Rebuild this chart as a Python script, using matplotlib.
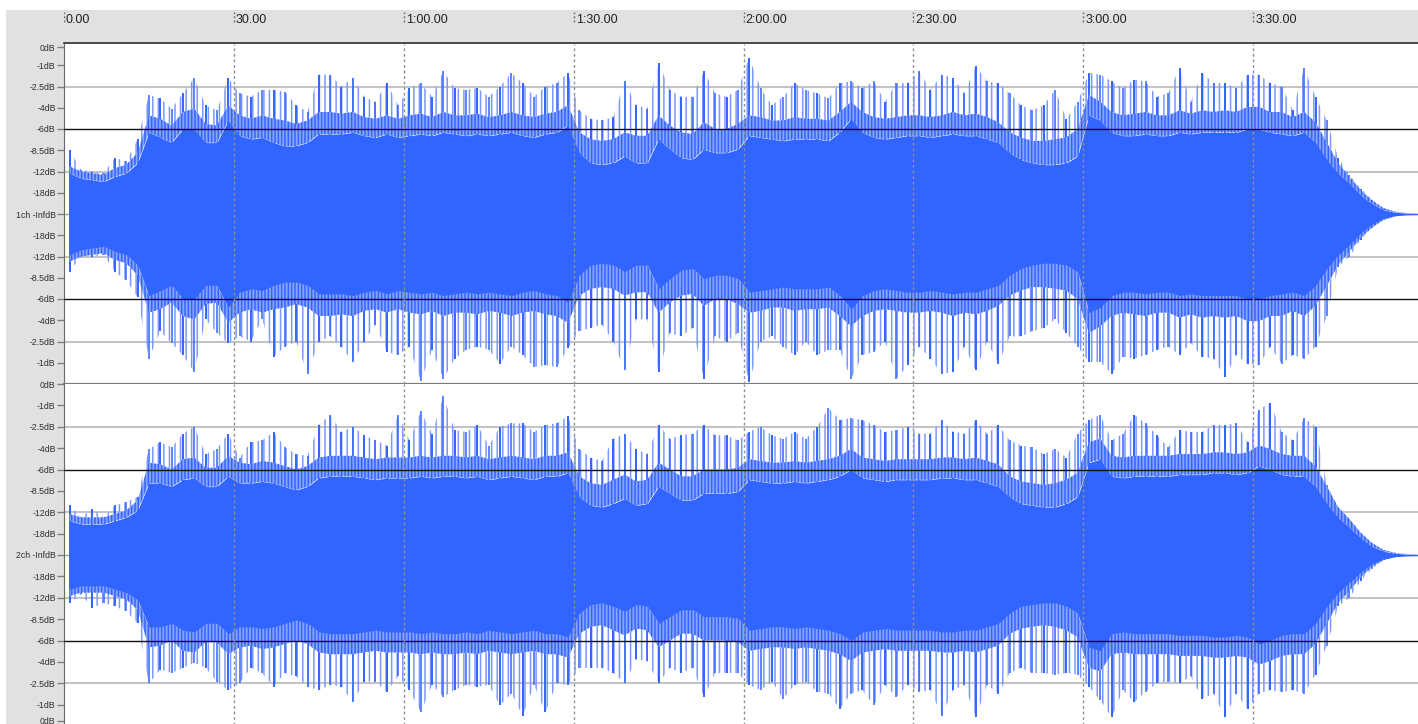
import numpy as np
import matplotlib.pyplot as plt
from matplotlib import transforms

plt.rcParams['font.family'] = ['Liberation Sans', 'DejaVu Sans']
plt.rcParams['hatch.linewidth'] = 1.1

# ruler (seconds)
tick_sec = [0, 30, 60, 90, 120, 150, 180, 210]
tick_txt = ['0.00', '30.00', '1:00.00', '1:30.00', '2:00.00', '2:30.00', '3:00.00', '3:30.00']

# level scale, linear amplitude in eighths
lvl_pos = [1.0, 0.875, 0.75, 0.625, 0.5, 0.375, 0.25, 0.125, 0.0]
lvl_txt = ['0dB', '-1dB', '-2.5dB', '-4dB', '-6dB', '-8.5dB', '-12dB', '-18dB', '-InfdB']

# waveform, read per 2 s block (centres 1, 3, ... 239 s)
# body = solid part, fringe = dense hair, top/bot = highest spike
body_ch1 = [0.24, 0.21, 0.20, 0.19, 0.22, 0.24, 0.30, 0.48, 0.45, 0.42, 0.50, 0.50, 0.42, 0.42, 0.55, 0.46, 0.44, 0.45, 0.42, 0.40,
            0.40, 0.42, 0.47, 0.47, 0.47, 0.48, 0.46, 0.45, 0.47, 0.45, 0.46, 0.47, 0.46, 0.48, 0.47, 0.46, 0.47, 0.46, 0.47, 0.48,
            0.46, 0.45, 0.47, 0.48, 0.52, 0.36, 0.30, 0.29, 0.30, 0.34, 0.30, 0.30, 0.44, 0.38, 0.33, 0.32, 0.38, 0.36, 0.36, 0.38,
            0.46, 0.45, 0.44, 0.43, 0.44, 0.44, 0.44, 0.43, 0.48, 0.56, 0.48, 0.45, 0.44, 0.45, 0.46, 0.46, 0.45, 0.46, 0.47, 0.46,
            0.46, 0.44, 0.42, 0.36, 0.32, 0.30, 0.29, 0.29, 0.30, 0.34, 0.58, 0.55, 0.48, 0.46, 0.46, 0.47, 0.46, 0.46, 0.48, 0.47,
            0.48, 0.48, 0.48, 0.48, 0.50, 0.50, 0.48, 0.47, 0.46, 0.48, 0.42, 0.32, 0.24, 0.18, 0.11, 0.06, 0.025, 0.01, 0.005, 0.004]
fringe_ch1 = [0.28, 0.25, 0.24, 0.23, 0.27, 0.29, 0.36, 0.58, 0.56, 0.52, 0.60, 0.62, 0.53, 0.52, 0.64, 0.58, 0.56, 0.58, 0.56, 0.55,
              0.53, 0.55, 0.60, 0.60, 0.59, 0.60, 0.57, 0.56, 0.58, 0.56, 0.58, 0.59, 0.57, 0.60, 0.58, 0.58, 0.59, 0.57, 0.58, 0.60,
              0.58, 0.57, 0.59, 0.60, 0.64, 0.48, 0.44, 0.43, 0.44, 0.48, 0.46, 0.46, 0.58, 0.52, 0.48, 0.47, 0.54, 0.50, 0.50, 0.53,
              0.58, 0.57, 0.55, 0.55, 0.57, 0.56, 0.56, 0.55, 0.60, 0.66, 0.60, 0.57, 0.56, 0.57, 0.58, 0.58, 0.57, 0.58, 0.60, 0.58,
              0.59, 0.57, 0.54, 0.48, 0.45, 0.43, 0.43, 0.44, 0.45, 0.50, 0.70, 0.66, 0.60, 0.58, 0.59, 0.60, 0.58, 0.58, 0.61, 0.59,
              0.61, 0.60, 0.61, 0.60, 0.63, 0.63, 0.60, 0.60, 0.57, 0.60, 0.54, 0.42, 0.30, 0.22, 0.14, 0.08, 0.035, 0.014, 0.006, 0.004]
top_ch1 = [0.375, 0.26, 0.25, 0.24, 0.33, 0.31, 0.44, 0.70, 0.68, 0.62, 0.71, 0.80, 0.64, 0.61, 0.80, 0.71, 0.69, 0.73, 0.73, 0.72,
           0.64, 0.60, 0.82, 0.82, 0.75, 0.80, 0.69, 0.66, 0.77, 0.64, 0.74, 0.77, 0.69, 0.84, 0.74, 0.73, 0.74, 0.69, 0.75, 0.83,
           0.77, 0.69, 0.75, 0.77, 0.83, 0.61, 0.56, 0.55, 0.57, 0.78, 0.64, 0.62, 0.89, 0.73, 0.69, 0.69, 0.84, 0.71, 0.69, 0.73,
           0.92, 0.74, 0.64, 0.69, 0.77, 0.73, 0.71, 0.68, 0.77, 0.78, 0.74, 0.78, 0.66, 0.77, 0.77, 0.84, 0.73, 0.82, 0.80, 0.71,
           0.87, 0.78, 0.77, 0.71, 0.64, 0.61, 0.64, 0.73, 0.56, 0.66, 0.83, 0.82, 0.78, 0.74, 0.79, 0.78, 0.69, 0.71, 0.86, 0.66,
           0.83, 0.77, 0.77, 0.74, 0.82, 0.82, 0.77, 0.75, 0.61, 0.86, 0.69, 0.55, 0.33, 0.23, 0.15, 0.085, 0.033, 0.008, 0.0, 0.0]
bot_ch1 = [0.34, 0.25, 0.25, 0.24, 0.34, 0.39, 0.49, 0.85, 0.69, 0.76, 0.83, 0.93, 0.62, 0.70, 0.76, 0.72, 0.75, 0.62, 0.84, 0.78,
           0.75, 0.94, 0.75, 0.72, 0.78, 0.87, 0.75, 0.65, 0.81, 0.83, 0.78, 0.98, 0.80, 0.97, 0.85, 0.80, 0.78, 0.80, 0.88, 0.78,
           0.83, 0.90, 0.89, 0.90, 0.79, 0.69, 0.67, 0.65, 0.75, 0.92, 0.62, 0.62, 0.93, 0.70, 0.72, 0.67, 0.97, 0.72, 0.75, 0.70,
           0.99, 0.75, 0.72, 0.78, 0.83, 0.75, 0.83, 0.80, 0.80, 0.97, 0.83, 0.81, 0.75, 0.97, 0.89, 0.78, 0.85, 0.94, 0.93, 0.78,
           0.92, 0.75, 0.88, 0.72, 0.72, 0.69, 0.67, 0.62, 0.70, 0.78, 0.87, 0.87, 0.94, 0.84, 0.85, 0.83, 0.80, 0.78, 0.83, 0.76,
           0.84, 0.85, 0.96, 0.83, 0.88, 0.89, 0.78, 0.88, 0.83, 0.85, 0.78, 0.60, 0.31, 0.25, 0.15, 0.08, 0.03, 0.01, 0.0, 0.0]

body_ch2 = [0.20, 0.18, 0.18, 0.18, 0.20, 0.22, 0.26, 0.42, 0.42, 0.40, 0.44, 0.45, 0.40, 0.40, 0.46, 0.42, 0.42, 0.43, 0.42, 0.40,
            0.38, 0.40, 0.45, 0.46, 0.46, 0.46, 0.45, 0.44, 0.45, 0.45, 0.45, 0.46, 0.45, 0.46, 0.46, 0.45, 0.46, 0.44, 0.45, 0.46,
            0.45, 0.44, 0.46, 0.46, 0.48, 0.34, 0.29, 0.28, 0.30, 0.33, 0.29, 0.30, 0.40, 0.36, 0.32, 0.32, 0.36, 0.36, 0.36, 0.37,
            0.44, 0.43, 0.42, 0.42, 0.43, 0.42, 0.43, 0.44, 0.46, 0.50, 0.45, 0.44, 0.43, 0.44, 0.44, 0.44, 0.44, 0.45, 0.45, 0.44,
            0.44, 0.42, 0.40, 0.34, 0.30, 0.29, 0.28, 0.28, 0.30, 0.34, 0.54, 0.56, 0.46, 0.45, 0.46, 0.46, 0.46, 0.46, 0.47, 0.47,
            0.47, 0.48, 0.48, 0.47, 0.48, 0.52, 0.50, 0.47, 0.46, 0.46, 0.40, 0.30, 0.22, 0.16, 0.10, 0.05, 0.022, 0.01, 0.005, 0.004]
fringe_ch2 = [0.24, 0.22, 0.22, 0.22, 0.24, 0.26, 0.32, 0.54, 0.53, 0.50, 0.56, 0.57, 0.51, 0.51, 0.58, 0.54, 0.53, 0.55, 0.54, 0.52,
              0.50, 0.52, 0.57, 0.58, 0.58, 0.58, 0.57, 0.56, 0.57, 0.57, 0.57, 0.58, 0.57, 0.58, 0.58, 0.57, 0.58, 0.56, 0.57, 0.58,
              0.57, 0.56, 0.58, 0.58, 0.60, 0.46, 0.42, 0.41, 0.44, 0.47, 0.43, 0.44, 0.54, 0.50, 0.46, 0.46, 0.50, 0.50, 0.50, 0.51,
              0.56, 0.55, 0.54, 0.54, 0.55, 0.54, 0.55, 0.56, 0.58, 0.62, 0.57, 0.56, 0.55, 0.56, 0.56, 0.56, 0.56, 0.57, 0.57, 0.56,
              0.57, 0.55, 0.53, 0.46, 0.43, 0.42, 0.41, 0.42, 0.44, 0.48, 0.66, 0.68, 0.58, 0.57, 0.58, 0.58, 0.58, 0.58, 0.59, 0.59,
              0.59, 0.60, 0.60, 0.59, 0.60, 0.64, 0.62, 0.59, 0.58, 0.58, 0.52, 0.40, 0.28, 0.21, 0.13, 0.07, 0.03, 0.013, 0.006, 0.004]
top_ch2 = [0.29, 0.22, 0.27, 0.21, 0.29, 0.31, 0.34, 0.62, 0.66, 0.63, 0.71, 0.75, 0.59, 0.62, 0.71, 0.57, 0.66, 0.67, 0.72, 0.63,
           0.59, 0.58, 0.76, 0.82, 0.72, 0.75, 0.70, 0.67, 0.64, 0.82, 0.67, 0.84, 0.71, 0.93, 0.73, 0.72, 0.76, 0.64, 0.75, 0.77,
           0.77, 0.72, 0.76, 0.77, 0.81, 0.62, 0.57, 0.55, 0.68, 0.71, 0.62, 0.59, 0.76, 0.68, 0.70, 0.71, 0.76, 0.70, 0.70, 0.67,
           0.72, 0.75, 0.70, 0.68, 0.72, 0.68, 0.75, 0.86, 0.79, 0.80, 0.79, 0.76, 0.72, 0.73, 0.75, 0.71, 0.71, 0.79, 0.72, 0.71,
           0.79, 0.71, 0.76, 0.67, 0.64, 0.63, 0.59, 0.62, 0.57, 0.71, 0.79, 0.82, 0.67, 0.71, 0.82, 0.77, 0.70, 0.63, 0.73, 0.72,
           0.72, 0.76, 0.76, 0.77, 0.66, 0.85, 0.89, 0.72, 0.67, 0.80, 0.75, 0.41, 0.26, 0.21, 0.13, 0.06, 0.03, 0.01, 0.0, 0.0]
bot_ch2 = [0.28, 0.23, 0.31, 0.28, 0.30, 0.33, 0.40, 0.75, 0.67, 0.69, 0.66, 0.63, 0.66, 0.74, 0.79, 0.75, 0.66, 0.69, 0.77, 0.69,
           0.71, 0.77, 0.79, 0.76, 0.77, 0.86, 0.74, 0.74, 0.80, 0.71, 0.79, 0.92, 0.76, 0.83, 0.79, 0.76, 0.77, 0.76, 0.88, 0.81,
           0.94, 0.76, 0.92, 0.75, 0.76, 0.66, 0.66, 0.66, 0.69, 0.75, 0.61, 0.62, 0.75, 0.66, 0.69, 0.66, 0.83, 0.69, 0.69, 0.69,
           0.76, 0.79, 0.74, 0.84, 0.76, 0.74, 0.80, 0.81, 0.90, 0.81, 0.79, 0.88, 0.76, 0.83, 0.76, 0.80, 0.79, 0.94, 0.79, 0.76,
           0.95, 0.76, 0.81, 0.69, 0.66, 0.69, 0.69, 0.70, 0.69, 0.70, 0.77, 0.85, 0.95, 0.79, 0.86, 0.80, 0.75, 0.74, 0.75, 0.71,
           0.84, 0.81, 0.95, 0.81, 0.90, 0.81, 0.79, 0.80, 0.79, 0.81, 0.70, 0.53, 0.30, 0.25, 0.15, 0.08, 0.03, 0.01, 0.0, 0.0]

t = np.arange(1, 240, 2)
t_end = 239.1

BLUE = '#3264ff'
LIGHT = '#86a2ff'

W, H = 1418, 724
fig = plt.figure(figsize=(W / 100, H / 100), dpi=100)
fig.patch.set_facecolor('white')

# grey panel behind ruler and level scale
bg = fig.add_axes([6 / W, 0, (W - 6) / W, (H - 10) / H])
bg.set_facecolor('#e1e1e1')
bg.set_xticks([])
bg.set_yticks([])
for s in bg.spines.values():
    s.set_visible(False)
bg.set_zorder(0)

ax1 = fig.add_axes([64 / W, (H - 384) / H, (W - 64) / W, 340 / H])
ax2 = fig.add_axes([64 / W, (H - 726) / H, (W - 64) / W, 342 / H], sharex=ax1)
ruler = fig.add_axes([64 / W, (H - 43) / H, (W - 64) / W, 33 / H], sharex=ax1)


def draw_channel(ax, body, fringe, top, bot, name, first):
    body = np.array(body)
    fringe = np.array(fringe)
    top = np.array(top)
    bot = np.array(bot)
    ax.set_facecolor('white')
    ax.set_zorder(1)
    ax.set_xlim(0, t_end)
    ax.set_ylim(-1, 1)
    # grid
    for y in [0.75, -0.75, 0.25, -0.25]:
        ax.axhline(y, color='#c4c4c4', lw=1.5, zorder=0.5)
    for y in [0.5, -0.5]:
        ax.axhline(y, color='#101010', lw=1, zorder=3)
    ax.axhline(0, color=LIGHT, lw=1, zorder=1)
    # loose hair up to the peaks, single spikes, dense fringe, solid body
    ax.fill_between(t, fringe, np.maximum(top, fringe), facecolor='none', edgecolor='#7c98ff',
                    hatch='|||', lw=0, zorder=1.2)
    ax.fill_between(t, -np.maximum(bot, fringe), -fringe, facecolor='none', edgecolor='#7c98ff',
                    hatch='|||', lw=0, zorder=1.2)
    ax.vlines(t[::2], -bot[::2], top[::2], color=BLUE, lw=1.4, zorder=1.5)
    ax.vlines(t[1::2], -bot[1::2], top[1::2], color=BLUE, lw=1.1, zorder=1.5)
    for sgn in [1, -1]:
        ax.fill_between(t, sgn * body, sgn * fringe, facecolor='#8aa5ff', edgecolor=BLUE,
                        hatch='|||||', lw=0, zorder=1.8)
    ax.fill_between(t, -body, body, color=BLUE, lw=0, zorder=2)
    ax.vlines(tick_sec[1:], -1, 1, color='#909090', lw=1, linestyles=(0, (2, 2)), zorder=3)

    # level scale
    pos = []
    lab = []
    for p, s in zip(lvl_pos, lvl_txt):
        if p == 0.0:
            pos.append(0.0)
            lab.append(name + ' ' + s)
        else:
            if first or p != 1.0:
                pos.append(p if not first else min(p, 0.982))
                lab.append(s)
            pos.append(-p if first else max(-p, -0.97))
            lab.append(s)
    ax.set_yticks(pos, lab)
    ax.tick_params(axis='y', length=5, width=1, color='#808080', labelsize=6.3,
                   labelcolor='#303030', pad=1)
    ax.tick_params(axis='x', bottom=False, labelbottom=False)
    for tk, p in zip(ax.yaxis.get_major_ticks(), pos):
        if p == 0.0:
            tk.tick1line.set_color('#1a1a80')

    ax.spines['top'].set_visible(False)
    ax.spines['right'].set_visible(False)
    ax.spines['left'].set_color('#6a6a6a')
    if first:
        ax.spines['bottom'].set_color('#7a7a7a')
        ax.spines['bottom'].set_linewidth(1.6)
    else:
        ax.spines['bottom'].set_visible(False)


draw_channel(ax1, body_ch1, fringe_ch1, top_ch1, bot_ch1, '1ch', True)
draw_channel(ax2, body_ch2, fringe_ch2, top_ch2, bot_ch2, '2ch', False)

# time ruler
ruler.set_facecolor('none')
ruler.set_zorder(2)
ruler.set_ylim(0, 1)
ruler.vlines(tick_sec, 0.64, 0.94, color='#707070', lw=1, linestyles=(0, (1.5, 1.5)))
off = transforms.offset_copy(ruler.transData, fig=fig, x=2, y=0, units='dots')
for s, lab in zip(tick_sec, tick_txt):
    ruler.text(s, 0.61, lab, transform=off, ha='left', va='baseline', fontsize=9, color='#202020')
ruler.tick_params(left=False, bottom=False, labelleft=False, labelbottom=False)
for k in ['top', 'left', 'right']:
    ruler.spines[k].set_visible(False)
ruler.spines['bottom'].set_color('#303030')
ruler.spines['bottom'].set_linewidth(1.2)

fig.savefig('out.png', dpi=100)
